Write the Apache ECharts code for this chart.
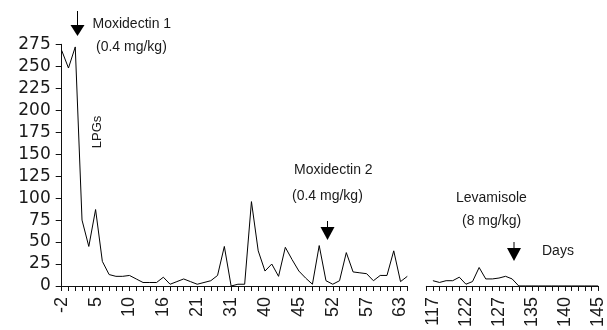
<!DOCTYPE html>
<html>
<head>
<meta charset="utf-8">
<script src="https://cdn.jsdelivr.net/npm/echarts@6/dist/echarts.min.js"></script>
<style>
html,body{margin:0;padding:0;background:#fff;}
#chart{width:607px;height:330px;}
</style>
</head>
<body>
<div id="chart"></div>
<script>
// Left panel (days -2 .. 63), sampled points
const leftTickLabels = ['-2','5','10','16','21','31','40','45','52','57','63'];
const leftValues = [268,248,272,75,45,87,28,13,11,11,12,8,4,4,4,10,2,5,8,5,2,4,6,12,45,0,2,2,96,40,17,25,11,44,30,17,9,2,46,6,2,6,38,16,15,14,6,12,12,40,5,11];
// Right panel (days 117 .. 145)
const rightTickLabels = ['117','122','127','135','140','145'];
const rightValues = [6,4,6,6,10,2,5,21,8,8,9,11,8,0,0,0,0,0,0,0,0,0,0,0,0,0];
const yTicks = {min:0, max:275, interval:25};

const leftCats = leftValues.map((v,i)=>String(i));
const rightCats = ['pad'].concat(rightValues.map((v,i)=>String(i)));
const rightData = [null].concat(rightValues);

const chart = echarts.init(document.getElementById('chart'), null, {renderer:'canvas'});
const axisColor = '#111';
const txt = '#1a1a1a';
const xLabelStyle = {
  rotate: 90, fontFamily: 'Liberation Sans', fontSize: 18, color: txt, margin: 11
};
const annFont = '14px "Liberation Sans"';

function arrow(x, yTop, yHead, yTip){
  return [
    {type:'line', shape:{x1:x, y1:yTop, x2:x, y2:yHead+1}, style:{stroke:'#000', lineWidth:1}},
    {type:'polygon', shape:{points:[[x-7,yHead],[x+7,yHead],[x,yTip]]}, style:{fill:'#000'}}
  ];
}
function label(t, x, y){
  return {type:'text', x:x, y:y, style:{text:t, font:annFont, fill:txt, align:'left', verticalAlign:'middle'}};
}

chart.setOption({
  backgroundColor:'#fff',
  animation:false,
  grid:[
    {left:61.7, top:44.3, width:345.6, height:241.7},
    {left:426.3, top:44.3, width:175.5, height:241.7}
  ],
  xAxis:[
    {type:'category', gridIndex:0, data:leftCats, boundaryGap:false,
     axisLine:{lineStyle:{color:axisColor, width:1}},
     axisTick:{interval:0, length:5, lineStyle:{color:axisColor}},
     axisLabel:Object.assign({interval:0, formatter:(v,i)=> i%5===0 ? (leftTickLabels[i/5]||'') : ''}, xLabelStyle),
     splitLine:{show:false}},
    {type:'category', gridIndex:1, data:rightCats, boundaryGap:false,
     axisLine:{lineStyle:{color:axisColor, width:1}},
     axisTick:{interval:0, length:5, lineStyle:{color:axisColor}},
     axisLabel:Object.assign({interval:0, formatter:(v,i)=> (i>=1 && (i-1)%5===0) ? (rightTickLabels[(i-1)/5]||'') : ''}, xLabelStyle),
     splitLine:{show:false}}
  ],
  yAxis:[
    {type:'value', gridIndex:0, min:yTicks.min, max:yTicks.max, interval:yTicks.interval,
     axisLine:{show:true, lineStyle:{color:axisColor, width:1}},
     axisTick:{show:true, length:6, lineStyle:{color:axisColor}},
     axisLabel:{fontFamily:'DejaVu Sans', fontSize:17, color:txt, margin:11},
     splitLine:{show:false}},
    {type:'value', gridIndex:1, min:yTicks.min, max:yTicks.max, interval:yTicks.interval, show:false, splitLine:{show:false}}
  ],
  series:[
    {type:'line', xAxisIndex:0, yAxisIndex:0, data:leftValues, symbol:'none', lineStyle:{color:'#000', width:1}},
    {type:'line', xAxisIndex:1, yAxisIndex:1, data:rightData, symbol:'none', lineStyle:{color:'#000', width:1}}
  ],
  graphic:[].concat(
    arrow(77.5, 11, 25, 36),
    arrow(327.5, 221, 227, 240),
    arrow(514, 242, 248, 261),
    [
      label('Moxidectin 1', 92.5, 24),
      label('(0.4 mg/kg)', 96, 47),
      label('Moxidectin 2', 294, 170.5),
      label('(0.4 mg/kg)', 292, 196),
      label('Levamisole', 456, 198.5),
      label('(8 mg/kg)', 462, 221.5),
      label('Days', 542, 251),
      {type:'text', x:97.5, y:132, rotation:Math.PI/2,
       style:{text:'LPGs', font:'13px "Liberation Sans"', fill:txt, align:'center', verticalAlign:'middle'}}
    ]
  )
});
</script>
</body>
</html>
